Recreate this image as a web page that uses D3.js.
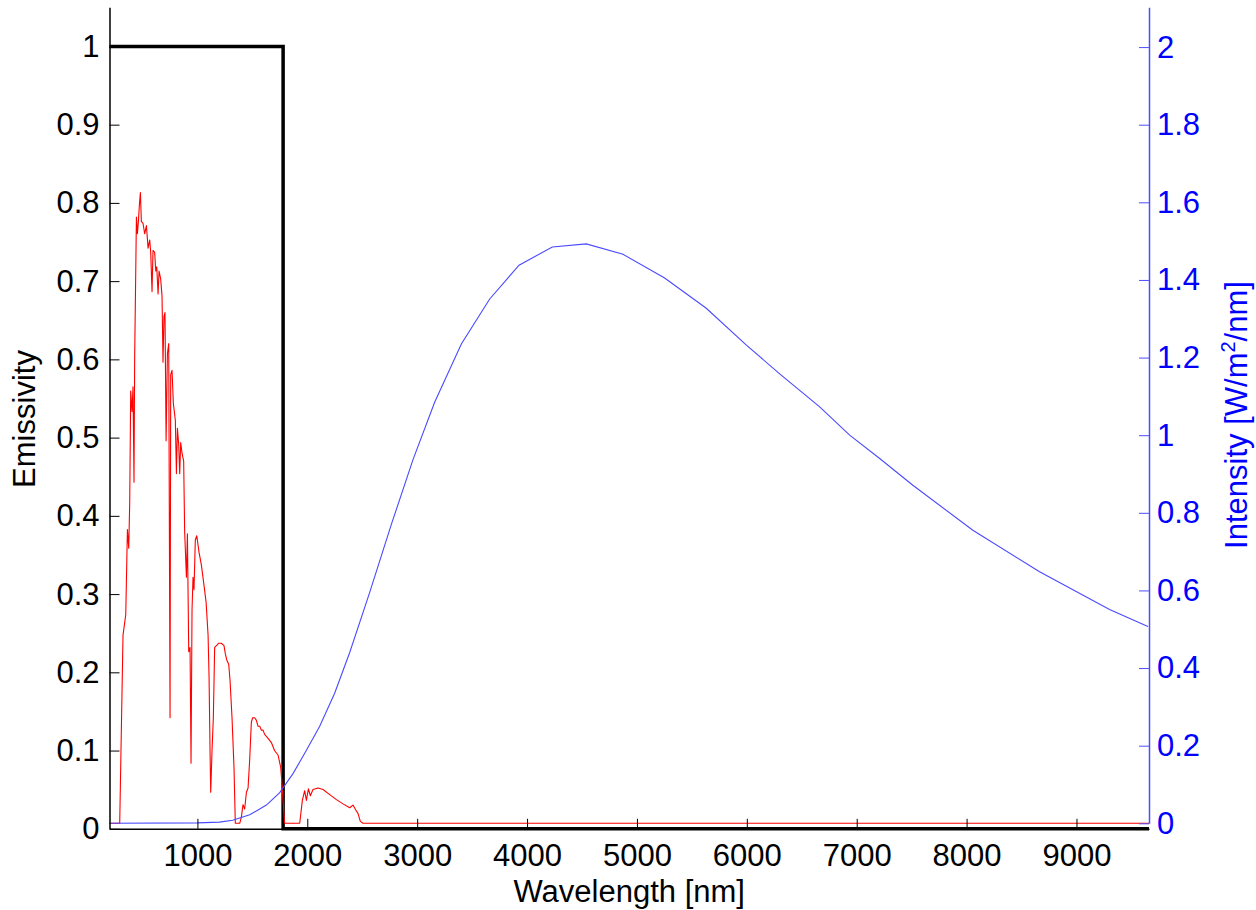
<!DOCTYPE html>
<html>
<head>
<meta charset="utf-8">
<script src="https://cdn.jsdelivr.net/npm/d3@7"></script>
<style>
  body { margin: 0; background: #fff; }
  svg text { font-family: "Liberation Sans", Arial, sans-serif; }
</style>
</head>
<body>
<div id="chart"></div>
<script>
// emissivity of the selective surface (left axis)
const emisWl = [200, 1780, 1780, 9660]
const emisVal = [1, 1, 0, 0]

// solar spectrum, W/m2/nm (right axis)
const solarWl = [200, 293, 323, 348, 363, 375, 384, 393, 405, 414, 423, 429, 445, 454, 463, 472, 481,
  490, 505, 520, 536, 551, 566, 575, 587, 596, 611, 621, 630, 642, 651, 666, 678, 687, 696, 705,
  715, 727, 739, 751, 757, 769, 781, 799, 809, 818, 830, 839, 848, 860, 875, 884, 900, 909, 921,
  933, 942, 951, 960, 969, 981, 994, 1015, 1036, 1060, 1079, 1097, 1106, 1115, 1121, 1133, 1145,
  1157, 1173, 1194, 1218, 1242, 1254, 1267, 1285, 1297, 1315, 1333, 1345, 1385, 1400, 1415, 1430,
  1446, 1461, 1476, 1491, 1503, 1521, 1536, 1552, 1567, 1582, 1597, 1612, 1643, 1673, 1703, 1734,
  1758, 1770, 1782, 1794, 1931, 1955, 1976, 1992, 2010, 2028, 2052, 2098, 2143, 2204, 2265, 2325,
  2386, 2416, 2440, 2462, 2483, 2507, 9660]
const solarVal = [0, 0, 0.485, 0.538, 0.757, 0.709, 0.826, 1.114, 1.061, 1.125, 0.879, 1.199, 1.562,
  1.519, 1.551, 1.593, 1.625, 1.551, 1.546, 1.519, 1.540, 1.482, 1.503, 1.471, 1.370, 1.476, 1.471,
  1.423, 1.434, 1.364, 1.423, 1.402, 1.359, 1.188, 1.306, 1.316, 0.986, 1.210, 1.236, 0.272, 1.156,
  1.167, 1.082, 1.039, 0.901, 1.018, 0.975, 0.901, 0.981, 0.954, 0.933, 0.751, 0.634, 0.746, 0.442,
  0.453, 0.155, 0.549, 0.634, 0.602, 0.730, 0.741, 0.698, 0.666, 0.613, 0.570, 0.485, 0.378, 0.187,
  0.080, 0.187, 0.272, 0.453, 0.458, 0.464, 0.464, 0.458, 0.437, 0.421, 0.410, 0.368, 0.272, 0.144,
  0, 0, 0.016, 0.048, 0.037, 0.080, 0.091, 0.165, 0.261, 0.272, 0.272, 0.266, 0.250, 0.250, 0.240,
  0.240, 0.229, 0.219, 0.208, 0.187, 0.176, 0.144, 0.101, 0.048, 0, 0, 0.059, 0.084, 0.059, 0.089,
  0.071, 0.087, 0.091, 0.087, 0.074, 0.061, 0.050, 0.040, 0.047, 0.035, 0.025, 0.005, 0, 0]

// blackbody emission, W/m2/nm (right axis)
const bbWl = [200, 1000, 1200, 1321, 1476, 1628, 1749, 1870, 1992, 2113, 2249, 2386, 2568, 2765,
  2962, 3159, 3402, 3660, 3927, 4230, 4539, 4873, 5252, 5631, 5996, 6299, 6663, 6936, 7209, 7511,
  8057, 8664, 9301, 9650]
const bbVal = [0, 0.001, 0.003, 0.008, 0.022, 0.047, 0.079, 0.128, 0.188, 0.25, 0.335, 0.44, 0.595,
  0.77, 0.937, 1.085, 1.235, 1.351, 1.438, 1.485, 1.493, 1.466, 1.405, 1.327, 1.232, 1.158, 1.073,
  1.000, 0.940, 0.871, 0.755, 0.648, 0.551, 0.507]

const xTicks = [1000, 2000, 3000, 4000, 5000, 6000, 7000, 8000, 9000]
const leftTicks = [0, 0.1, 0.2, 0.3, 0.4, 0.5, 0.6, 0.7, 0.8, 0.9, 1]
const rightTicks = [0, 0.2, 0.4, 0.6, 0.8, 1, 1.2, 1.4, 1.6, 1.8, 2]

;(function () {

  const W = 1256, H = 910
  const plotLeft = 109.5, plotRight = 1149, plotTop = 7.3, plotBottom = 828.8

  const svg = d3.select("#chart").append("svg")
    .attr("width", W)
    .attr("height", H)

  const x = d3.scaleLinear().domain([200, 9660]).range([plotLeft, plotRight])
  const yL = d3.scaleLinear().domain([0, 1.05]).range([plotBottom, plotTop])
  const yR = d3.scaleLinear().domain([0, 2.1025]).range([823.3, plotTop])

  const fontSize = 31

  // emissivity step
  const emis = emisWl.map((d, i) => [d, emisVal[i]])
  svg.append("path")
    .datum(emis)
    .attr("fill", "none")
    .attr("stroke", "black")
    .attr("stroke-width", 3.5)
    .attr("d", d3.line().x(d => x(d[0])).y(d => yL(d[1])))

  // solar spectrum
  const solar = solarWl.map((d, i) => [d, solarVal[i]])
  svg.append("path")
    .datum(solar)
    .attr("fill", "none")
    .attr("stroke", "#ff0000")
    .attr("stroke-width", 1.1)
    .attr("stroke-linejoin", "round")
    .attr("d", d3.line().x(d => x(d[0])).y(d => yR(d[1])))

  // blackbody
  const bb = bbWl.map((d, i) => [d, bbVal[i]])
  svg.append("path")
    .datum(bb)
    .attr("fill", "none")
    .attr("stroke", "#4a4aff")
    .attr("stroke-width", 1.1)
    .attr("d", d3.line().x(d => x(d[0])).y(d => yR(d[1])))

  // left axis
  const yAxisL = d3.axisLeft(yL)
    .tickValues(leftTicks)
    .tickFormat(d3.format("~g"))
    .tickSizeInner(-10)
    .tickSizeOuter(0)
    .tickPadding(10)
  svg.append("g")
    .attr("class", "axis y-left")
    .attr("transform", "translate(" + plotLeft + ",0)")
    .call(yAxisL)

  // right axis
  const yAxisR = d3.axisRight(yR)
    .tickValues(rightTicks)
    .tickFormat(d3.format("~g"))
    .tickSizeInner(-10)
    .tickSizeOuter(0)
    .tickPadding(8)
  svg.append("g")
    .attr("class", "axis y-right")
    .attr("transform", "translate(" + plotRight + ",0)")
    .call(yAxisR)

  // x axis
  const xAxis = d3.axisBottom(x)
    .tickValues(xTicks)
    .tickFormat(d3.format("d"))
    .tickSizeInner(-10)
    .tickSizeOuter(0)
    .tickPadding(15)
  svg.append("g")
    .attr("class", "axis x-axis")
    .attr("transform", "translate(0," + plotBottom + ")")
    .call(xAxis)

  svg.selectAll(".axis text")
    .attr("font-size", fontSize)
    .attr("font-family", "Liberation Sans, Arial, sans-serif")

  svg.selectAll(".y-left path, .x-axis path")
    .attr("stroke", "black")
    .attr("stroke-width", 1.5)
  svg.selectAll(".y-left line, .x-axis line").attr("stroke", "black")

  svg.selectAll(".y-right path")
    .attr("stroke", "#4d4dff")
    .attr("stroke-width", 1.5)
  svg.selectAll(".y-right line").attr("stroke", "#4d4dff")
  svg.selectAll(".y-right text").attr("fill", "#0000ff")

  // axis labels
  svg.append("text")
    .attr("x", (plotLeft + plotRight) / 2)
    .attr("y", 902)
    .attr("text-anchor", "middle")
    .attr("font-size", fontSize)
    .text("Wavelength [nm]")

  svg.append("text")
    .attr("transform", "translate(35,419) rotate(-90)")
    .attr("text-anchor", "middle")
    .attr("font-size", fontSize)
    .text("Emissivity")

  const rl = svg.append("text")
    .attr("transform", "translate(1247,415) rotate(-90)")
    .attr("text-anchor", "middle")
    .attr("font-size", fontSize)
    .attr("fill", "#0000ff")
  rl.append("tspan").text("Intensity [W/m")
  rl.append("tspan").attr("dy", -12).attr("font-size", 20).text("2")
  rl.append("tspan").attr("dy", 12).text("/nm]")

})();
</script>
</body>
</html>
